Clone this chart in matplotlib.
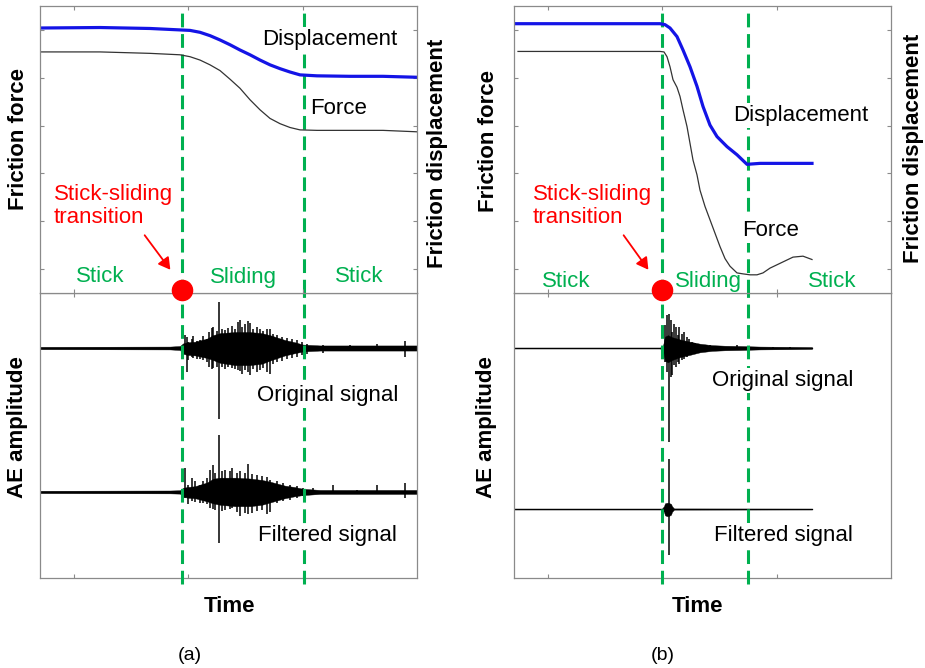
import matplotlib.pyplot as plt
from matplotlib.patches import FancyArrowPatch

plt.rcParams['font.family'] = ['Liberation Sans', 'DejaVu Sans']

W, H = 925, 668
GREEN = '#00b050'
SPINE = '#8a8a8a'

# ---- panel (a): friction curves (time in arbitrary units) ----
disp_a_t = [0, 0.60, 1.10, 1.40, 1.50, 1.60, 1.70, 1.80, 1.90, 2.00, 2.10, 2.20, 2.30, 2.40,
            2.50, 2.60, 2.77, 3.10, 3.43, 3.77]
disp_a = [5.54, 5.55, 5.53, 5.50, 5.49, 5.45, 5.38, 5.29, 5.19, 5.08, 4.98, 4.87, 4.77, 4.69,
          4.62, 4.56, 4.54, 4.53, 4.53, 4.51]
force_a_t = [0, 0.60, 1.10, 1.40, 1.50, 1.60, 1.70, 1.80, 1.90, 2.00, 2.10, 2.20, 2.30, 2.40,
             2.50, 2.60, 2.77, 3.10, 3.43, 3.77]
force_a = [5.04, 5.04, 5.01, 4.98, 4.94, 4.87, 4.77, 4.65, 4.47, 4.28, 4.04, 3.83, 3.65, 3.54,
           3.46, 3.41, 3.40, 3.40, 3.40, 3.37]

# ---- panel (b): friction curves ----
disp_b_t = [0, 0.79, 1.46, 1.51, 1.56, 1.63, 1.69, 1.76, 1.83, 1.89, 1.96, 2.03, 2.13, 2.23,
            2.33, 2.46, 2.79, 2.98]
disp_b = [5.63, 5.63, 5.63, 5.61, 5.54, 5.36, 5.08, 4.73, 4.32, 3.90, 3.51, 3.27, 3.06, 2.89,
          2.69, 2.71, 2.71, 2.71]
force_b_t = [0.04, 0.79, 1.46, 1.50, 1.53, 1.56, 1.59, 1.63, 1.66, 1.69, 1.73, 1.76, 1.79, 1.83,
             1.86, 1.91, 1.96, 2.01, 2.06, 2.11, 2.16, 2.23, 2.29, 2.36, 2.43, 2.49, 2.56, 2.63,
             2.71, 2.79, 2.89, 2.98]
force_b = [5.05, 5.05, 5.05, 5.04, 4.94, 4.73, 4.46, 4.30, 4.11, 3.83, 3.48, 3.13, 2.78, 2.47,
           2.15, 1.81, 1.53, 1.25, 0.97, 0.72, 0.56, 0.42, 0.40, 0.38, 0.38, 0.42, 0.52, 0.59,
           0.67, 0.75, 0.77, 0.70]

# ---- AE (a): dense core envelope ----
core_a_t = [0, 1.30, 1.40, 1.43, 1.47, 1.55, 1.67, 1.73, 1.80, 1.95, 2.10, 2.22, 2.30, 2.45,
            2.55, 2.63, 2.80, 3.20, 3.77]
orig_a_up = [0.04, 0.05, 0.07, 0.16, 0.20, 0.22, 0.33, 0.45, 0.52, 0.56, 0.56, 0.52, 0.45, 0.28,
             0.20, 0.12, 0.09, 0.09, 0.09]
orig_a_low = [0.04, 0.05, 0.07, 0.20, 0.24, 0.26, 0.35, 0.42, 0.52, 0.60, 0.60, 0.55, 0.44, 0.26,
              0.18, 0.12, 0.09, 0.09, 0.09]
filt_a_up = [0.04, 0.05, 0.06, 0.14, 0.17, 0.20, 0.33, 0.46, 0.50, 0.50, 0.47, 0.42, 0.36, 0.22,
             0.17, 0.11, 0.07, 0.07, 0.07]
filt_a_low = [0.04, 0.05, 0.06, 0.16, 0.20, 0.22, 0.33, 0.40, 0.45, 0.50, 0.50, 0.45, 0.37, 0.22,
              0.15, 0.11, 0.07, 0.07, 0.07]

# ---- AE (a): individual peaks ----
orig_a_spk_t = [1.433, 1.45, 1.467, 1.483, 1.517, 1.533, 1.567, 1.60, 1.633, 1.667, 1.693, 1.717,
                1.733, 1.767, 1.79, 1.817, 1.85, 1.883, 1.917, 1.95, 1.983, 2.00, 2.017, 2.05,
                2.083, 2.10, 2.133, 2.167, 2.20, 2.233, 2.267, 2.30, 2.333, 2.367, 2.417, 2.467,
                2.517, 2.567, 2.617, 2.667, 2.833, 3.10, 3.367, 3.65]
orig_a_spk_up = [0.09, 0.44, 0.39, 0.21, 0.33, 0.42, 0.23, 0.27, 0.42, 0.33, 0.56, 0.70,
                 0.74, 0.58, 1.61, 0.68, 0.62, 0.70, 0.77, 0.68, 0.91, 0.97, 0.74, 0.85,
                 0.94, 0.89, 0.68, 0.74, 0.68, 0.58, 0.68, 0.68, 0.50, 0.47, 0.39, 0.35,
                 0.33, 0.27, 0.21, 0.15, 0.12, 0.12, 0.15, 0.23]
orig_a_spk_low = [0.08, 0.20, 0.84, 0.43, 0.32, 0.35, 0.37, 0.40, 0.43, 0.49, 0.67, 0.73,
                  0.70, 0.67, 2.48, 0.67, 0.73, 0.67, 0.70, 0.75, 0.78, 0.82, 0.90, 0.78,
                  0.84, 0.96, 0.75, 0.84, 0.78, 0.70, 0.84, 0.90, 0.55, 0.49, 0.47, 0.40,
                  0.35, 0.32, 0.26, 0.20, 0.16, 0.12, 0.12, 0.32]
filt_a_spk_t = [1.45, 1.483, 1.517, 1.55, 1.60, 1.633, 1.667, 1.70, 1.727, 1.75, 1.79, 1.817,
                1.85, 1.90, 1.917, 1.967, 2.00, 2.05, 2.083, 2.117, 2.167, 2.217, 2.267, 2.30,
                2.367, 2.433, 2.50, 2.567, 2.633, 2.733, 2.933, 3.167, 3.367, 3.65]
filt_a_spk_up = [0.84, 0.26, 0.49, 0.37, 0.26, 0.37, 0.49, 0.78, 0.96, 0.67, 2.01, 0.73,
                 0.78, 0.73, 0.84, 0.67, 0.75, 0.67, 0.98, 0.63, 0.61, 0.55, 0.51, 0.43,
                 0.37, 0.32, 0.26, 0.20, 0.14, 0.14, 0.26, 0.08, 0.23, 0.32]
filt_a_spk_low = [0.21, 0.44, 0.33, 0.37, 0.38, 0.39, 0.44, 0.56, 0.60, 0.62, 1.79, 0.68,
                  0.62, 0.60, 0.58, 0.70, 0.85, 0.74, 0.76, 0.73, 0.68, 0.62, 0.78, 0.70,
                  0.39, 0.33, 0.27, 0.21, 0.15, 0.09, 0.07, 0.05, 0.07, 0.21]

# ---- AE (b) ----
core_b_t = [0, 1.46, 1.49, 1.51, 1.54, 1.58, 1.66, 1.76, 1.86, 1.98, 2.11, 2.26, 2.46, 2.76, 2.98]
orig_b_up = [0.015, 0.015, 0.08, 0.40, 0.45, 0.38, 0.30, 0.22, 0.15, 0.10, 0.08, 0.07, 0.05, 0.04, 0.03]
orig_b_low = [0.015, 0.015, 0.08, 0.45, 0.50, 0.42, 0.32, 0.24, 0.15, 0.10, 0.08, 0.07, 0.05, 0.04, 0.03]
filt_b_t = [0, 1.48, 1.50, 1.51, 1.53, 1.55, 1.57, 1.58, 1.60, 2.98]
filt_b_up = [0.015, 0.015, 0.10, 0.20, 0.22, 0.21, 0.18, 0.10, 0.02, 0.015]
filt_b_low = [0.015, 0.015, 0.10, 0.22, 0.25, 0.24, 0.20, 0.10, 0.02, 0.015]

orig_b_spk_t = [1.51, 1.533, 1.553, 1.567, 1.583, 1.60, 1.62, 1.637, 1.653, 1.677, 1.70, 1.727,
                1.753, 1.777, 1.81, 1.843, 1.893, 1.96, 2.06, 2.227, 2.427, 2.593, 2.76]
orig_b_spk_up = [0.80, 1.15, 1.20, 0.97, 0.56, 0.85, 0.74, 0.44, 0.74, 0.50, 0.56, 0.39,
                 0.33, 0.21, 0.19, 0.15, 0.12, 0.09, 0.07, 0.09, 0.05, 0.04, 0.02]
orig_b_spk_low = [0.49, 0.84, 3.30, 1.02, 0.96, 0.61, 0.67, 0.49, 0.55, 0.43, 0.38, 0.32,
                  0.26, 0.20, 0.16, 0.14, 0.12, 0.09, 0.09, 0.08, 0.05, 0.04, 0.02]
filt_b_spk_t = [1.55]
filt_b_spk_up = [1.75]
filt_b_spk_low = [1.61]

ticks = [0.335, 1.48, 2.625]


def fx(px):
    return px / W


def fy(py):
    return 1 - py / H


def style(ax, yticks):
    for s in ax.spines.values():
        s.set_color(SPINE)
        s.set_linewidth(0.9)
    ax.set_xlim(0, 3.77)
    ax.set_xticks(ticks)
    ax.set_xticklabels([])
    ax.set_yticks(yticks)
    ax.set_yticklabels([])
    ax.tick_params(direction='in', length=3, color=SPINE, top=True, right=True)


def draw_ae(ax, t, up, low, base, st, su, sl):
    ax.fill_between(t, [base + u for u in up], [base - l for l in low], color='black', lw=0.3)
    ax.vlines(st, [base - l for l in sl], [base + u for u in su], color='black', lw=1.1)
    ax.plot([t[0], t[-1]], [base, base], color='black', lw=0.9)


fig = plt.figure(figsize=(W / 100, H / 100), dpi=100)

panels = [
    dict(left=40, top_t=disp_a_t, top=disp_a, ft=force_a_t, f=force_a, dash=(1.42, 2.64),
         ae=(core_a_t, orig_a_up, orig_a_low, orig_a_spk_t, orig_a_spk_up, orig_a_spk_low),
         fae=(core_a_t, filt_a_up, filt_a_low, filt_a_spk_t, filt_a_spk_up, filt_a_spk_low),
         fbase=3.02),
    dict(left=514, top_t=disp_b_t, top=disp_b, ft=force_b_t, f=force_b, dash=(1.48, 2.34),
         ae=(core_b_t, orig_b_up, orig_b_low, orig_b_spk_t, orig_b_spk_up, orig_b_spk_low),
         fae=(filt_b_t, filt_b_up, filt_b_low, filt_b_spk_t, filt_b_spk_up, filt_b_spk_low),
         fbase=2.42),
]

for p in panels:
    ax2 = fig.add_axes([fx(p['left']), fy(578), fx(377), 285 / H])
    ax1 = fig.add_axes([fx(p['left']), fy(293), fx(377), 287 / H])
    ax1.set_zorder(5)
    style(ax1, [0.5, 1.5, 2.5, 3.5, 4.5, 5.5])
    style(ax2, [])
    ax1.set_ylim(0, 6)
    ax2.set_ylim(0, 10)
    ax1.plot(p['ft'], p['f'], color='#333333', lw=0.9)
    ax1.plot(p['top_t'], p['top'], color='#1414e6', lw=2.3)
    for d in p['dash']:
        ax1.axvline(d, ymax=0.98, color=GREEN, lw=2.2, ls=(0, (4.5, 2.2)), zorder=1)
        ax2.axvline(d, ymin=-0.02, color=GREEN, lw=2.2, ls=(0, (4.5, 2.2)), zorder=3, clip_on=False)
    t, u, l, st, su, sl = p['ae']
    draw_ae(ax2, t, u, l, 8.07, st, su, sl)
    t, u, l, st, su, sl = p['fae']
    draw_ae(ax2, t, u, l, p['fbase'], st, su, sl)
    ax1.plot([p['dash'][0]], [0.06], 'o', color='#ff0000', ms=14.5, clip_on=False, zorder=10)

box = dict(facecolor='white', edgecolor='none', pad=1.5)
labels = [
    # (x, y, text, color, bold, rotation, boxed)
    (330, 39, 'Displacement', 'black', False, 0, True),
    (339, 108, 'Force', 'black', False, 0, True),
    (100, 277, 'Stick', GREEN, False, 0, False),
    (243, 277, 'Sliding', GREEN, False, 0, False),
    (359, 277, 'Stick', GREEN, False, 0, False),
    (328, 395, 'Original signal', 'black', False, 0, True),
    (327, 536, 'Filtered signal', 'black', False, 0, True),
    (19, 139, 'Friction force', 'black', True, 90, False),
    (438, 153, 'Friction displacement', 'black', True, 90, False),
    (18, 427, 'AE amplitude', 'black', True, 90, False),
    (229, 606, 'Time', 'black', True, 0, False),
    (801, 115, 'Displacement', 'black', False, 0, True),
    (771, 230, 'Force', 'black', False, 0, True),
    (566, 282, 'Stick', GREEN, False, 0, False),
    (708, 282, 'Sliding', GREEN, False, 0, False),
    (832, 282, 'Stick', GREEN, False, 0, False),
    (783, 380, 'Original signal', 'black', False, 0, True),
    (783, 535, 'Filtered signal', 'black', False, 0, True),
    (488, 141, 'Friction force', 'black', True, 90, False),
    (913, 148, 'Friction displacement', 'black', True, 90, False),
    (487, 427, 'AE amplitude', 'black', True, 90, False),
    (697, 606, 'Time', 'black', True, 0, False),
]
for x, y, s, c, b, r, boxed in labels:
    fig.text(fx(x), fy(y), s, color=c, fontsize=16, fontweight='bold' if b else 'normal',
             rotation=r, ha='center', va='center', zorder=20, bbox=box if boxed else None)

fig.text(fx(190), fy(655), '(a)', fontsize=14, ha='center', va='center')
fig.text(fx(663), fy(655), '(b)', fontsize=14, ha='center', va='center')

for x0, arrow in [(54, ((143, 233), (172, 272))), (533, ((622, 233), (650, 272)))]:
    fig.text(fx(x0), fy(206), 'Stick-sliding\ntransition', color='#ff0000', fontsize=16,
             ha='left', va='center', linespacing=1.15, zorder=20)
    (sx, sy), (ex, ey) = arrow
    fig.add_artist(FancyArrowPatch(
        (fx(sx), fy(sy)), (fx(ex), fy(ey)), transform=fig.transFigure,
        arrowstyle='-|>,head_length=7,head_width=4', color='#ff0000', lw=1.3, zorder=20))

fig.savefig('out.png', dpi=100)
